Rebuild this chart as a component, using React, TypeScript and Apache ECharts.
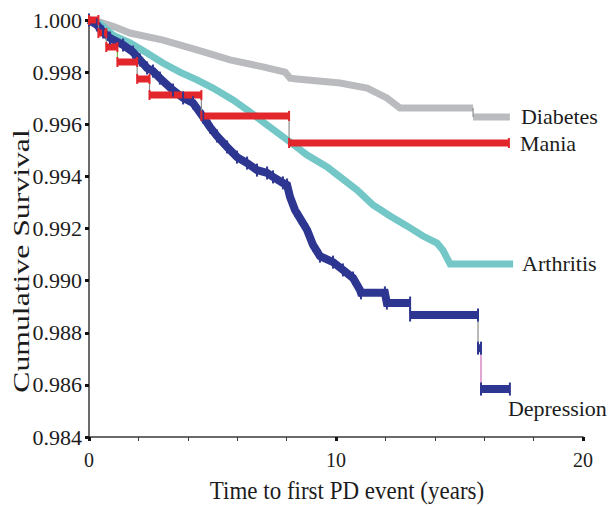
import { useEffect, useRef } from "react";
import * as echarts from "echarts";

// ---- Data ----
const xTickValues = [0, 10, 20];
const yMin = 0.984;
const yMax = 1.0;
const yStep = 0.002;

const diabetesTime = [0, 0.45, 1.05, 1.66, 3.0, 4.37, 5.71, 7.04, 7.94, 8.14, 8.42, 10.16, 11.26, 12.06, 12.59, 15.55, 15.55, 17.04];
const diabetesSurv = [1.0, 0.99992, 0.99973, 0.9995, 0.99923, 0.99885, 0.99847, 0.9982, 0.998, 0.99777, 0.99774, 0.99758, 0.99739, 0.99701, 0.99662, 0.99662, 0.99628, 0.99628];

const maniaTime = [0, 0.38, 0.7, 1.15, 1.95, 2.45, 4.55, 8.1, 17.0];
const maniaSurv = [1.0, 0.9995, 0.99896, 0.99839, 0.99774, 0.99712, 0.99632, 0.99528, 0.99528];

const arthritisTime = [0, 0.45, 0.97, 1.66, 2.35, 2.99, 3.68, 4.37, 5.02, 5.83, 6.52, 7.21, 8.14, 8.83, 9.64, 10.16, 10.85, 11.5, 12.19, 12.87, 13.52, 14.09, 14.33, 14.49, 14.62, 17.17];
const arthritisSurv = [1.0, 0.99985, 0.99942, 0.99912, 0.99873, 0.99835, 0.998, 0.9977, 0.99739, 0.99693, 0.99647, 0.99597, 0.99532, 0.99482, 0.99436, 0.99398, 0.99348, 0.9929, 0.99248, 0.9921, 0.99171, 0.99144, 0.99117, 0.99087, 0.99064, 0.99064];

const depressionTime = [0, 0.32, 0.57, 0.85, 1.38, 1.78, 2.06, 2.35, 2.59, 2.87, 3.4, 3.81, 4.21, 4.62, 4.9, 5.18, 5.59, 5.99, 6.4, 6.8, 7.21, 7.45, 7.85, 8.02, 8.14, 8.34, 8.54, 8.83, 9.07, 9.35, 9.88, 10.28, 10.69, 10.97, 11.01, 11.98, 12.06, 13.0, 13.0, 15.75, 15.75, 15.87, 15.87, 17.04];
const depressionSurv = [1.0, 0.99981, 0.99954, 0.99931, 0.99904, 0.99877, 0.99847, 0.99816, 0.99804, 0.99777, 0.99731, 0.99701, 0.99682, 0.99628, 0.99589, 0.99555, 0.99513, 0.99474, 0.99451, 0.99424, 0.99413, 0.99398, 0.99375, 0.99367, 0.99321, 0.99271, 0.9924, 0.99194, 0.99137, 0.99094, 0.99071, 0.99041, 0.9901, 0.98964, 0.98953, 0.98953, 0.98914, 0.98914, 0.98868, 0.98868, 0.98741, 0.98741, 0.98584, 0.98584];

const xAxisTitle = "Time to first PD event (years)";
const yAxisTitle = "Cumulative Survival";

// connectors drawn in an accent colour (as in the reference)
const connectorAccents = [
  { name: "Mania", time: 1.15, color: "#69bf4a" },
  { name: "Depression", time: 15.87, color: "#d06db6" },
];

type Pt = [number, number | null];

const FONT = "'Liberation Serif', 'Times New Roman', serif";
const TEXT = "#1c1c1c";
const AXIS = "#3a3a3a";

function polyline(t: number[], s: number[]): Pt[] {
  return t.map((x, i) => [x, s[i]] as Pt);
}

function stepline(t: number[], s: number[]): Pt[] {
  const pts: Pt[] = [];
  for (let i = 0; i < t.length; i++) {
    pts.push([t[i], s[i]]);
    if (i < t.length - 1) pts.push([t[i + 1], s[i]]);
  }
  return pts;
}

function split(pts: Pt[]) {
  const clean: Pt[] = [];
  pts.forEach((p) => {
    const last = clean[clean.length - 1];
    if (!last || last[0] !== p[0] || last[1] !== p[1]) clean.push(p);
  });
  const thick: Pt[] = [];
  const conns: { x: number; y1: number; y2: number }[] = [];
  for (let i = 0; i < clean.length; i++) {
    const p = clean[i];
    thick.push(p);
    const q = clean[i + 1];
    if (q && q[0] === p[0]) {
      conns.push({ x: p[0], y1: p[1] as number, y2: q[1] as number });
      thick.push([p[0], null]);
    }
  }
  return { thick, conns };
}

function buildOption() {
  const defs = [
    { name: "Diabetes", pts: polyline(diabetesTime, diabetesSurv), color: "#b9bbbe", width: 7, offset: [0, 0], tick: null },
    { name: "Arthritis", pts: polyline(arthritisTime, arthritisSurv), color: "#74c7c7", width: 7, offset: [-2, 0], tick: null },
    { name: "Depression", pts: polyline(depressionTime, depressionSurv), color: "#2d3690", width: 8, offset: [-13, 19], tick: [2, 13] },
    { name: "Mania", pts: stepline(maniaTime, maniaSurv), color: "#e2262b", width: 7, offset: [0, 0], tick: [2, 10] },
  ];

  const connByColor: Record<string, Pt[]> = {};
  const thickSeries: any[] = [];
  defs.forEach((d) => {
    const { thick, conns } = split(d.pts);
    conns.forEach((c) => {
      const acc = connectorAccents.find((a) => a.name === d.name && Math.abs(a.time - c.x) < 1e-9);
      const col = acc ? acc.color : "#8d8d8d";
      if (!connByColor[col]) connByColor[col] = [];
      connByColor[col].push([c.x, c.y1], [c.x, c.y2], [c.x, null]);
    });
    thickSeries.push({
      type: "line",
      name: d.name,
      data: thick,
      showSymbol: !!d.tick,
      symbol: d.tick ? "rect" : "none",
      symbolSize: d.tick || 0,
      clip: false,
      connectNulls: false,
      lineStyle: { color: d.color, width: d.width, cap: "butt", join: "miter" },
      itemStyle: { color: d.color, borderWidth: 0 },
      endLabel: {
        show: true,
        formatter: "{a}",
        distance: 11,
        offset: d.offset,
        color: TEXT,
        fontFamily: FONT,
        fontSize: 22,
      },
      emphasis: { disabled: true },
      silent: true,
    });
  });

  const connSeries = Object.keys(connByColor).map((col) => ({
    type: "line",
    data: connByColor[col],
    showSymbol: false,
    symbol: "none",
    clip: false,
    connectNulls: false,
    lineStyle: { color: col, width: 1.2 },
    emphasis: { disabled: true },
    silent: true,
  }));

  // draw order: gray, cyan, blue, connectors, red
  const series = [thickSeries[0], thickSeries[1], thickSeries[2], ...connSeries, thickSeries[3]];

  return {
    animation: false,
    backgroundColor: "#ffffff",
    grid: { left: 89, right: 32, top: 20, bottom: 70 },
    xAxis: {
      type: "value",
      min: xTickValues[0],
      max: xTickValues[xTickValues.length - 1],
      interval: xTickValues[1] - xTickValues[0],
      axisLine: { show: true, onZero: false, lineStyle: { color: AXIS, width: 1.5 } },
      axisTick: { show: true, length: 4, lineStyle: { color: "#111", width: 3 } },
      minorTick: { show: true, splitNumber: 5, length: 4, lineStyle: { color: AXIS, width: 1 } },
      splitLine: { show: false },
      axisLabel: { fontSize: 20, margin: 13, color: TEXT, fontFamily: FONT },
    },
    yAxis: {
      type: "value",
      min: yMin,
      max: yMax,
      interval: yStep,
      axisLine: { show: true, onZero: false, lineStyle: { color: AXIS, width: 1.5 } },
      axisTick: { show: true, length: 4, lineStyle: { color: "#111", width: 3 } },
      splitLine: { show: false },
      axisLabel: {
        fontSize: 22,
        margin: 7,
        color: TEXT,
        fontFamily: FONT,
        formatter: (v: number) => v.toFixed(3),
      },
    },
    graphic: [
      {
        type: "text",
        x: 347,
        y: 490,
        scaleY: 1.12,
        style: { text: xAxisTitle, fill: TEXT, font: `23px ${FONT}`, textAlign: "center", textVerticalAlign: "middle" },
        silent: true,
      },
      {
        type: "text",
        x: 21,
        y: 261,
        rotation: Math.PI / 2,
        scaleX: 1.38,
        style: { text: yAxisTitle, fill: TEXT, font: `23px ${FONT}`, textAlign: "center", textVerticalAlign: "middle" },
        silent: true,
      },
    ],
    series,
  };
}

export default function App() {
  const ref = useRef<HTMLDivElement>(null);
  useEffect(() => {
    if (!ref.current) return;
    const chart = echarts.init(ref.current, null, { renderer: "svg" });
    chart.setOption(buildOption() as any);
    return () => chart.dispose();
  }, []);
  return (
    <div
      ref={ref}
      style={{ position: "fixed", left: 0, top: 0, width: 615, height: 507, background: "#fff" }}
    />
  );
}
